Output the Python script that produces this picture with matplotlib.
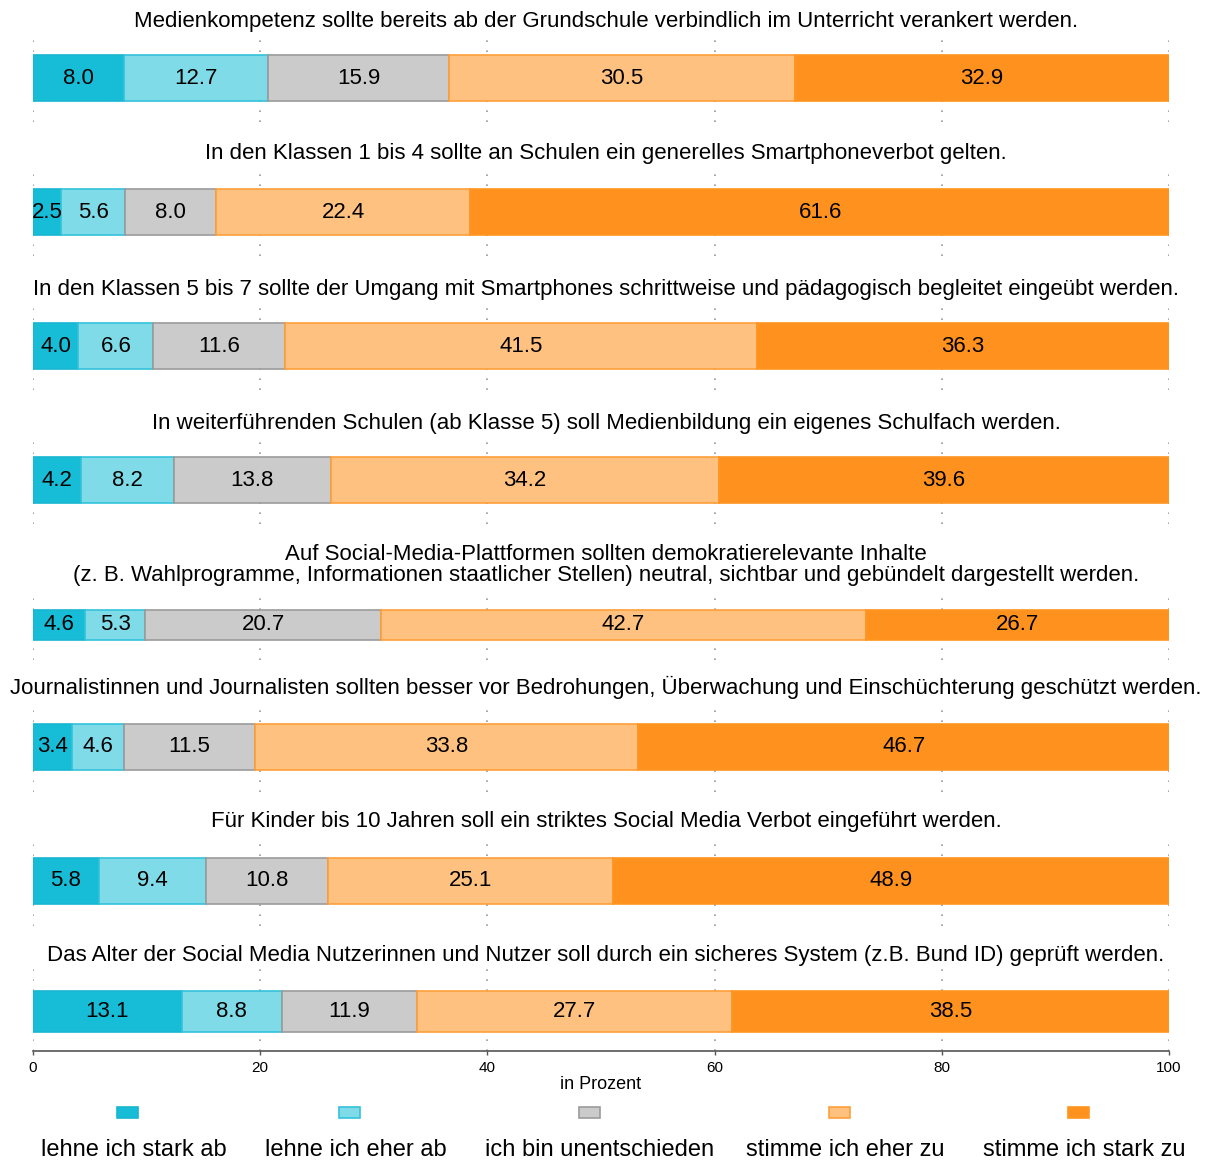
import matplotlib
matplotlib.use("Agg")
import matplotlib.pyplot as plt
from matplotlib.patches import Rectangle
import numpy as np

plt.rcParams['font.family'] = ['Liberation Sans', 'DejaVu Sans']

# data
statements = [
    "Medienkompetenz sollte bereits ab der Grundschule verbindlich im Unterricht verankert werden.",
    "In den Klassen 1 bis 4 sollte an Schulen ein generelles Smartphoneverbot gelten.",
    "In den Klassen 5 bis 7 sollte der Umgang mit Smartphones schrittweise und pädagogisch begleitet eingeübt werden.",
    "In weiterführenden Schulen (ab Klasse 5) soll Medienbildung ein eigenes Schulfach werden.",
    "Auf Social-Media-Plattformen sollten demokratierelevante Inhalte\n(z. B. Wahlprogramme, Informationen staatlicher Stellen) neutral, sichtbar und gebündelt dargestellt werden.",
    "Journalistinnen und Journalisten sollten besser vor Bedrohungen, Überwachung und Einschüchterung geschützt werden.",
    "Für Kinder bis 10 Jahren soll ein striktes Social Media Verbot eingeführt werden.",
    "Das Alter der Social Media Nutzerinnen und Nutzer soll durch ein sicheres System (z.B. Bund ID) geprüft werden.",
]
categories = ["lehne ich stark ab", "lehne ich eher ab", "ich bin unentschieden",
              "stimme ich eher zu", "stimme ich stark zu"]
stark_ab = [8.0, 2.5, 4.0, 4.2, 4.6, 3.4, 5.8, 13.1]
eher_ab = [12.7, 5.6, 6.6, 8.2, 5.3, 4.6, 9.4, 8.8]
unentschieden = [15.9, 8.0, 11.6, 13.8, 20.7, 11.5, 10.8, 11.9]
eher_zu = [30.5, 22.4, 41.5, 34.2, 42.7, 33.8, 25.1, 27.7]
stark_zu = [32.9, 61.6, 36.3, 39.6, 26.7, 46.7, 48.9, 38.5]
x_ticks = [0, 20, 40, 60, 80, 100]

colors = ['#17BCD7', '#80DBE8', '#CBCBCB', '#FFC180', '#FF921E']
edges = ['#19B6D0', '#33C2DA', '#9B9B9B', '#FF9F3A', '#FF9520']

# layout in pixels
W, H = 1212, 1162
X0, X1 = 33, 1169
# (panel top, panel bottom, bar top, bar bottom)
panels = [(33, 122, 55, 101), (167, 256, 189, 235), (301, 390, 323, 369),
          (435, 524, 457, 503), (598, 660, 610, 640), (702, 792, 724, 770),
          (836, 926, 858, 904), (968, 1051, 991, 1032)]
title_y = [22, 153, 290, 424, 565, 687, 821, 956]

fig = plt.figure(figsize=(W / 100, H / 100), dpi=100)

series = np.array([stark_ab, eher_ab, unentschieden, eher_zu, stark_zu])

for i, (top, bot, btop, bbot) in enumerate(panels):
    ax = fig.add_axes([X0 / W, 1 - bot / H, (X1 - X0) / W, (bot - top) / H])
    ax.set_xlim(0, 100)
    ax.set_ylim(bot, top)
    yc = (btop + bbot) / 2
    left = 0.0
    for k in range(5):
        v = series[k, i]
        ax.barh(yc, v, left=left, height=bbot - btop, color=colors[k],
                edgecolor=edges[k], linewidth=1.2, zorder=2)
        ax.text(left + v / 2, yc, f"{v:.1f}", ha='center', va='center',
                fontsize=16, color='black', zorder=3)
        left += v
    ax.set_xticks(x_ticks)
    ax.grid(axis='x', linestyle=(0, (1, 5)), color='#9a9a9a', linewidth=1.2)
    ax.set_axisbelow(True)
    ax.set_yticks([])
    for s in ['top', 'left', 'right']:
        ax.spines[s].set_visible(False)
    if i < len(panels) - 1:
        ax.spines['bottom'].set_visible(False)
        ax.tick_params(axis='x', length=0, labelbottom=False)
    else:
        ax.spines['bottom'].set_color('#555555')
        ax.spines['bottom'].set_linewidth(1.2)
        ax.tick_params(axis='x', length=3, width=1, color='#555555',
                       labelsize=11, pad=4)
        ax.set_xlabel("in Prozent", fontsize=13, labelpad=1)
    fig.text(606 / W, 1 - title_y[i] / H, statements[i], ha='center',
             va='center', fontsize=16, linespacing=1.0)

# legend: key above label
box_x = [127.5, 349.5, 589.5, 839.5, 1078.5]
label_x = [134, 356, 599.5, 845, 1084]
for k in range(5):
    fig.add_artist(Rectangle(((box_x[k] - 10.5) / W, 1 - 1118 / H), 21 / W, 11 / H,
                             transform=fig.transFigure, facecolor=colors[k],
                             edgecolor=edges[k], linewidth=1.2))
    fig.text(label_x[k] / W, 1 - 1150 / H, categories[k], ha='center',
             va='center', fontsize=17)

fig.savefig("out.png", dpi=100)
